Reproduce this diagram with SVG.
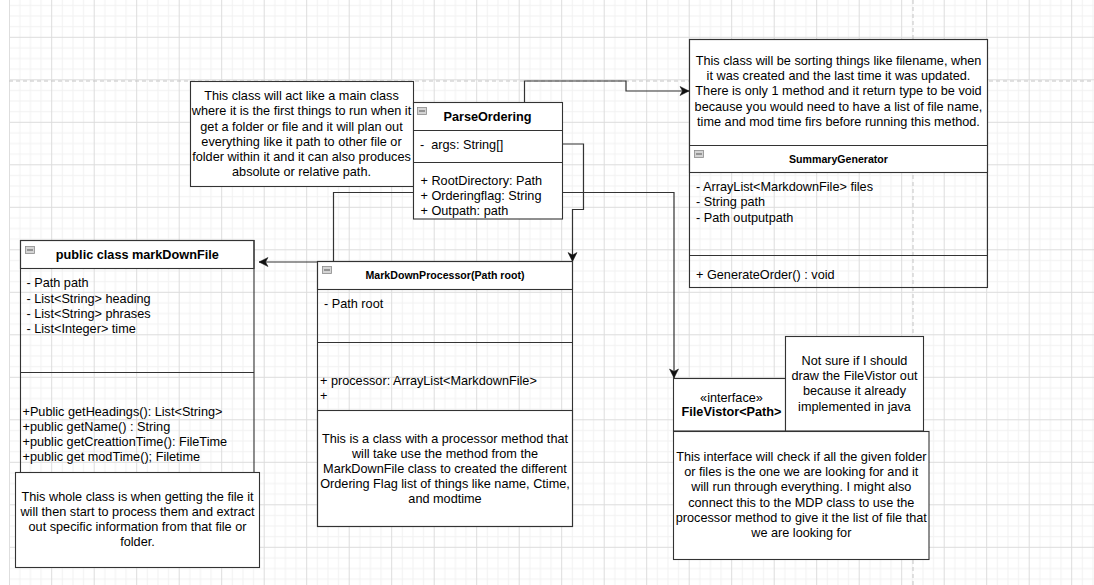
<svg xmlns="http://www.w3.org/2000/svg" width="1094" height="585" viewBox="0 0 1094 585">
<style>
text{font-family:"Liberation Sans",Arial,sans-serif;font-size:12.7px;fill:#000;white-space:pre}
.c{text-anchor:middle}
.b{font-weight:bold}
.s{font-size:10.6px}
.box{fill:#fff;stroke:#333;stroke-width:1.1}
.open{fill:none;stroke:#333;stroke-width:1.1}
.ln{stroke:#333;stroke-width:1.1;fill:none}
.edge{fill:none;stroke:#333;stroke-width:1.2}
.pg{stroke:#c4c4c4;stroke-width:1;stroke-dasharray:4 3;fill:none}
.ico{fill:#d4d4d4;stroke:#8a8a8a;stroke-width:0.8}
</style>
<defs>
<pattern id="grid" patternUnits="userSpaceOnUse" x="8.7" y="-5.7" width="42.5" height="42.5">
<rect x="10.625" y="0" width="1" height="42.5" fill="#f1f1f1"/>
<rect x="21.25" y="0" width="1" height="42.5" fill="#f1f1f1"/>
<rect x="31.875" y="0" width="1" height="42.5" fill="#f1f1f1"/>
<rect x="0" y="10.625" width="42.5" height="1" fill="#f1f1f1"/>
<rect x="0" y="21.25" width="42.5" height="1" fill="#f1f1f1"/>
<rect x="0" y="31.875" width="42.5" height="1" fill="#f1f1f1"/>
<rect x="0" y="0" width="1" height="42.5" fill="#dcdcdc"/>
<rect x="0" y="0" width="42.5" height="1" fill="#dcdcdc"/>
</pattern>
<marker id="arr" markerUnits="userSpaceOnUse" markerWidth="12" markerHeight="12" viewBox="-1 -6 12 12" refX="9" refY="0" orient="auto">
<path d="M0,-4.5 L9,0 L0,4.5 L2.5,0 Z" fill="#111" stroke="#111" stroke-width="0.5"/>
</marker>
</defs>
<g id="background">
<rect x="0" y="0" width="1094" height="585" fill="#fff"/>
<rect x="9" y="0" width="1085" height="585" fill="url(#grid)"/>
<line x1="9.5" y1="0" x2="9.5" y2="585" stroke="#dedede"/>
<line class="pg" x1="9" y1="81" x2="1094" y2="81"/>
<line class="pg" x1="913" y1="0" x2="913" y2="585"/>
</g>
<g id="edges">
<path class="edge" d="M524.5,102.5 V81 H626 V91 H689" marker-end="url(#arr)"/>
<path class="edge" d="M562.5,144 H583.5 V209.5 H572.5 V261.5" marker-end="url(#arr)"/>
<path class="edge" d="M562.5,192.5 H674 V378" marker-end="url(#arr)"/>
<path class="edge" d="M413.5,192.5 H333.5 V262 H259" marker-end="url(#arr)"/>
</g>
<g id="note-parseordering">
<rect class="box" x="190.5" y="81.5" width="223" height="105"/>
<text class="c" x="301.5" y="100.3">This class will act like a main class</text>
<text class="c" x="301.5" y="115.4">where it is the first things to run when it</text>
<text class="c" x="301.5" y="130.5">get a folder or file and it will plan out</text>
<text class="c" x="301.5" y="145.6">everything like it path to other file or</text>
<text class="c" x="301.5" y="160.7">folder within it and it can also produces</text>
<text class="c" x="301.5" y="175.8">absolute or relative path.</text>
</g>
<g id="class-parseordering">
<rect class="box" x="413.5" y="102.5" width="149" height="116.5"/>
<line class="ln" x1="413.5" y1="130.5" x2="562.5" y2="130.5"/>
<line class="ln" x1="413.5" y1="162.5" x2="562.5" y2="162.5"/>
<rect class="ico" x="417.5" y="107.5" width="9" height="7"/>
<line x1="419" y1="111" x2="425" y2="111" stroke="#555" stroke-width="1"/>
<text class="c b" x="487.5" y="121">ParseOrdering</text>
<text x="420" y="149">-  args: String[]</text>
<text x="420.5" y="185">+ RootDirectory: Path</text>
<text x="420.5" y="200">+ Orderingflag: String</text>
<text x="420.5" y="215">+ Outpath: path</text>
</g>
<g id="class-summarygenerator">
<rect class="box" x="689.5" y="39.5" width="298" height="133"/>
<rect class="open" x="689.5" y="39.5" width="298" height="248"/>
<line class="ln" x1="689.5" y1="145.5" x2="987.5" y2="145.5"/>
<line class="ln" x1="689.5" y1="255.5" x2="987.5" y2="255.5"/>
<text class="c" x="838.5" y="65">This class will be sorting things like filename, when</text>
<text class="c" x="838.5" y="80.2">it was created and the last time it was updated.</text>
<text class="c" x="838.5" y="95.4">There is only 1 method and it return type to be void</text>
<text class="c" x="838.5" y="110.6">because you would need to have a list of file name,</text>
<text class="c" x="838.5" y="125.8">time and mod time firs before running this method.</text>
<rect class="ico" x="694.5" y="150.5" width="9" height="7"/>
<line x1="696" y1="154" x2="702" y2="154" stroke="#555" stroke-width="1"/>
<text class="c b s" x="838.5" y="163">SummaryGenerator</text>
<text x="696" y="190.7">- ArrayList&lt;MarkdownFile&gt; files</text>
<text x="696" y="206">- String path</text>
<text x="696" y="221.5">- Path outputpath</text>
<text x="696" y="279">+ GenerateOrder() : void</text>
</g>
<g id="class-markdownfile">
<rect class="box" x="20.5" y="240.5" width="233.5" height="28"/>
<rect class="open" x="20.5" y="240.5" width="233.5" height="240"/>
<line class="ln" x1="20.5" y1="372.5" x2="254" y2="372.5"/>
<rect class="ico" x="25.5" y="246.5" width="9" height="7"/>
<line x1="27" y1="250" x2="33" y2="250" stroke="#555" stroke-width="1"/>
<text class="c b" x="137.3" y="259">public class markDownFile</text>
<text x="26.5" y="287.3">- Path path</text>
<text x="26.5" y="302.7">- List&lt;String&gt; heading</text>
<text x="26.5" y="317.7">- List&lt;String&gt; phrases</text>
<text x="26.5" y="332.7">- List&lt;Integer&gt; time</text>
<text x="22.5" y="415.7">+Public getHeadings(): List&lt;String&gt;</text>
<text x="22.5" y="431.2">+public getName() : String</text>
<text x="22.5" y="446.3">+public getCreattionTime(): FileTime</text>
<text x="22.5" y="461.3">+public get modTime(); Filetime</text>
</g>
<g id="note-markdownfile">
<rect class="box" x="15.5" y="472.5" width="244" height="95"/>
<text class="c" x="137.5" y="500.7">This whole class is when getting the file it</text>
<text class="c" x="137.5" y="516">will then start to process them and extract</text>
<text class="c" x="137.5" y="530.7">out specific information from that file or</text>
<text class="c" x="137.5" y="545.7">folder.</text>
</g>
<g id="class-markdownprocessor">
<rect class="box" x="317.5" y="261.5" width="255" height="28"/>
<rect class="box" x="317.5" y="410.5" width="255" height="116"/>
<rect class="open" x="317.5" y="261.5" width="255" height="265"/>
<line class="ln" x1="317.5" y1="342.5" x2="572.5" y2="342.5"/>
<rect class="ico" x="322.5" y="266.5" width="9" height="7"/>
<line x1="324" y1="270" x2="330" y2="270" stroke="#555" stroke-width="1"/>
<text class="c b s" x="445" y="279.3">MarkDownProcessor(Path root)</text>
<text x="324" y="307.7">- Path root</text>
<text x="320" y="385.3">+ processor: ArrayList&lt;MarkdownFile&gt;</text>
<text x="320" y="399.5">+</text>
<text class="c" x="445" y="443.3">This is a class with a processor method that</text>
<text class="c" x="445" y="457.7">will take use the method from the</text>
<text class="c" x="445" y="472.7">MarkDownFile class to created the different</text>
<text class="c" x="445" y="488">Ordering Flag list of things like name, Ctime,</text>
<text class="c" x="445" y="502.7">and modtime</text>
</g>
<g id="interface-filevistor">
<rect class="box" x="673.5" y="378.5" width="112" height="52.5"/>
<text class="c" x="731.5" y="401.7">«interface»</text>
<text class="c b" x="731.5" y="416">FileVistor&lt;Path&gt;</text>
</g>
<g id="note-filevistor-small">
<rect class="box" x="785.5" y="336.5" width="138" height="94.5"/>
<text class="c" x="854.5" y="365">Not sure if I should</text>
<text class="c" x="854.5" y="380.2">draw the FileVistor out</text>
<text class="c" x="854.5" y="395.4">because it already</text>
<text class="c" x="854.5" y="410.6">implemented in java</text>
</g>
<g id="note-filevistor">
<rect class="box" x="673.5" y="431.5" width="255.5" height="128"/>
<text class="c" x="801.3" y="460.7">This interface will check if all the given folder</text>
<text class="c" x="801.3" y="476">or files is the one we are looking for and it</text>
<text class="c" x="801.3" y="491.3">will run through everything. I might also</text>
<text class="c" x="801.3" y="506.6">connect this to the MDP class to use the</text>
<text class="c" x="801.3" y="522">processor method to give it the list of file that</text>
<text class="c" x="801.3" y="537.3">we are looking for</text>
</g>
</svg>
